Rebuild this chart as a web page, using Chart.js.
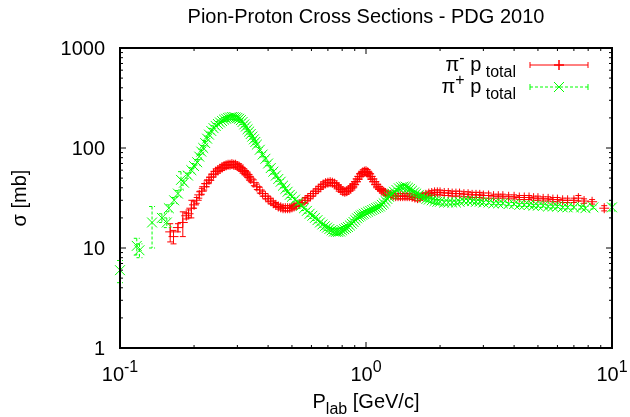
<!DOCTYPE html>
<html>
<head>
<meta charset="utf-8">
<script src="https://cdn.jsdelivr.net/npm/chart.js@4.4.0/dist/chart.umd.min.js"></script>
<style>
  body { margin: 0; background: #fff; }
  canvas { display: block; }
</style>
</head>
<body>
<canvas id="pion-chart" width="630" height="417"></canvas>
<script>
//pi- p total: momentum [GeV/c], cross section [mb], error [mb]
const pimP = [
  0.160,0.165,0.172,0.180,0.186,0.190,0.195,0.200,0.205,0.210,
  0.215,0.220,0.225,0.230,0.235,0.240,0.245,0.250,0.255,0.260,
  0.265,0.270,0.275,0.280,0.285,0.290,0.295,0.300,0.305,0.310,
  0.315,0.320,0.325,0.330,0.335,0.340,0.350,0.360,0.370,0.380,
  0.390,0.400,0.410,0.420,0.430,0.440,0.450,0.460,0.470,0.480,
  0.490,0.500,0.510,0.520,0.535,0.550,0.565,0.580,0.595,0.610,
  0.625,0.640,0.655,0.670,0.685,0.700,0.715,0.730,0.745,0.760,
  0.775,0.790,0.805,0.820,0.835,0.850,0.865,0.880,0.895,0.910,
  0.925,0.940,0.955,0.970,0.985,1.000,1.015,1.030,1.045,1.060,
  1.080,1.100,1.120,1.140,1.160,1.180,1.200,1.230,1.260,1.290,
  1.320,1.350,1.380,1.410,1.440,1.470,1.500,1.540,1.580,1.620,
  1.660,1.700,1.750,1.800,1.850,1.900,1.950,2.000,2.080,2.160,
  2.240,2.320,2.400,2.500,2.600,2.700,2.800,2.900,3.000,3.150,
  3.300,3.450,3.600,3.800,4.000,4.200,4.400,4.600,4.800,5.000,
  5.250,5.500,5.750,6.000,6.300,6.600,7.000,7.300,7.700,8.300,
  9.300
];
const pimSigma = [
  14.5,13,16,18,21,22,25,27,30,34,
  37,41,44,48,51,55,58,60,62,64,
  66,67,68,68,69,68,68,66,65,63,
  60,58,56,54,51,49,45,41,38,35,
  33,31,29.5,28,27,26,25.5,25,25,25,
  25,25.5,26,26.5,27.5,28.5,30,31.5,33,35,
  37,39,41,43,44.5,45,45.5,45,44,42,
  40,38.5,37,36.5,37,38,39.5,41,43,46,
  49,52,55,57,58,58.5,57,55,52,49,
  46,43,41,39,37.5,36.5,35.5,34.5,34,33.5,
  33,33,33,33,33,33,33,32.5,32,31.5,
  32,33,34,35,35.5,36,36,36,35.5,35.5,
  35,35,35,34.5,34.5,34,34,34,33.5,33.5,
  33,33,33,32.5,32.5,32,32,32,31.5,31.5,
  31,31,30.5,30.5,30,30,30,31.5,29.5,29,
  25
];
const pimErr = [
  3,2,1.5,5,1.5,2,5,2,2,2.5,
  2.5,3,3,3,3.5,3.5,4,4,4,4.5,
  4.5,4.5,4.5,4.5,4.5,4.5,4.5,4.5,4.5,4.5,
  4,4,3.5,3.5,3.5,3,3,2.5,2.5,2,
  2,2,2,1.5,1.5,1.5,1.5,1.5,1.5,1.5,
  1.5,1.5,1.5,1.5,1.5,1.5,2,2,2,2,
  2,2.5,2.5,3,3,3,3,3,3,3,
  3,2.5,2.5,2.5,2.5,2.5,2.5,3,3,3,
  3,3.5,3.5,3.5,4,4,4,3.5,3.5,3,
  3,3,2.5,2,2,2,2,2,2,2,
  2,2,2,2,2,2,2,2,2,2,
  2,2,2,2,2,2,2,2,2,2,
  2,2,2,2,2,2,2,2,2,2,
  1.5,1.5,1.5,1.5,1.5,1.5,1.5,1.5,1.5,1.5,
  1.5,1.5,1.5,1.5,1.5,1.5,1.5,2,1.5,1.5,
  1.5
];

//pi+ p total
const pipP = [
  0.100,0.117,0.120,0.135,0.148,0.155,0.158,0.166,0.172,0.177,
  0.182,0.189,0.195,0.200,0.206,0.210,0.214,0.218,0.222,0.226,
  0.230,0.235,0.240,0.245,0.250,0.255,0.260,0.265,0.270,0.275,
  0.280,0.285,0.290,0.295,0.300,0.305,0.310,0.315,0.320,0.325,
  0.330,0.335,0.340,0.345,0.350,0.355,0.360,0.370,0.380,0.390,
  0.400,0.410,0.420,0.430,0.440,0.450,0.460,0.470,0.480,0.490,
  0.500,0.515,0.530,0.545,0.560,0.575,0.590,0.605,0.620,0.635,
  0.650,0.665,0.680,0.695,0.710,0.725,0.740,0.755,0.770,0.785,
  0.800,0.815,0.830,0.845,0.860,0.875,0.890,0.905,0.920,0.935,
  0.950,0.965,0.980,1.000,1.020,1.040,1.060,1.080,1.100,1.120,
  1.140,1.160,1.180,1.200,1.220,1.240,1.260,1.280,1.300,1.330,
  1.360,1.390,1.420,1.450,1.480,1.510,1.540,1.570,1.600,1.640,
  1.680,1.720,1.760,1.800,1.850,1.900,1.950,2.000,2.080,2.160,
  2.240,2.320,2.400,2.500,2.600,2.700,2.800,2.900,3.000,3.150,
  3.300,3.450,3.600,3.800,4.000,4.200,4.400,4.600,4.800,5.000,
  5.250,5.500,5.750,6.000,6.300,6.600,7.000,7.500,7.800,8.400,
  10.000
];
const pipSigma = [
  6.0,10.5,9.5,18,20,18,25,30,35,48,
  45,53,60,66,72,82,92,100,112,124,
  136,148,158,166,174,180,186,192,196,200,
  202,204,204,202,200,196,190,182,172,164,
  154,146,138,130,122,115,108,96,86,78,
  70,63,58,53,49,46,42,39,36.5,34,
  32.5,30.5,28.5,26.5,25,23.5,22,21,20,19,
  18,17.2,16.5,16,15.5,15,14.6,14.5,14.5,14.6,
  15,15.4,15.8,16.2,16.8,17.5,18.2,19,19.8,20.5,
  21,21.5,22,22.5,23,23.5,24,24.5,25,25.5,
  26,27,28,29.5,31,32.5,34,35,36.5,38,
  39.5,40.5,41,41,40,39,37.5,36,35,34,
  33,32,31,30.5,30,29.5,29,29,28.5,28.5,
  28.5,28.5,29,29.5,29.5,29.5,29,29,28.5,28.5,
  28,28,28,27.5,27.5,27,27,27,26.5,26.5,
  26.5,26,26,26,25.5,25.5,25.5,25.5,25,25.5,
  25.5
];
const pipErr = [
  1.5,2,1.5,8,2,2,2,2,2.5,10,
  2.5,3,3.5,4,4.5,5,5.5,6,7,7.5,
  8,9,9,10,10,10,10,10,10,10,
  10,10,10,10,10,10,10,10,9,9,
  8.5,8,7.5,7,6.5,6,5.5,5,4.5,4,
  3.5,3.5,3,3,2.5,2.5,2,2,2,2,
  1.8,1.6,1.5,1.4,1.3,1.2,1.2,1.2,1.1,1.1,
  1,1,1,1,1,1,1,1,1,1,
  1,1,1,1,1,1,1,1,1,1,
  1.2,1.2,1.2,1.2,1.2,1.2,1.2,1.2,1.2,1.2,
  1.2,1.2,1.5,1.5,1.5,1.5,1.5,1.5,1.5,1.5,
  2,2,2,2,2,2,2,2,2,2,
  1.5,1.5,1.5,1.5,1.5,1.5,1.5,1.5,1.5,1.5,
  1.2,1.2,1.2,1.2,1.2,1.2,1.2,1.2,1.2,1.2,
  1,1,1,1,1,1,1,1,1,1,
  1,1,1,1,1,1,1,1,1,1,
  2
];

//Axis ticks
const xMajorTicks = [0.1, 1, 10];
const xTickExponents = ["-1", "0", "1"];
const yMajorTicks = [1, 10, 100, 1000];
const yTickLabels = ["1", "10", "100", "1000"];
const minorSteps = [2, 3, 4, 5, 6, 7, 8, 9];

const FONT = '"Liberation Sans", Arial, Helvetica, sans-serif';

//Draw text made of pieces with different size / vertical offset (super and subscripts)
function drawRich(ctx, parts, x, y, align) {
  let width = 0;
  for (const part of parts) {
    ctx.font = part.size + "px " + FONT;
    part.w = ctx.measureText(part.t).width;
    width += part.w;
  }
  let cx = x;
  if (align == "center") cx = x - width / 2;
  if (align == "right") cx = x - width;
  ctx.textAlign = "left";
  ctx.textBaseline = "alphabetic";
  for (const part of parts) {
    ctx.font = part.size + "px " + FONT;
    ctx.fillText(part.t, cx, y + part.dy);
    cx += part.w;
  }
}

//Vertical error bars with caps, drawn right after each dataset
const errorBars = {
  id: "errorBars",
  afterDatasetDraw(chart, args) {
    const ds = chart.data.datasets[args.index];
    const ctx = chart.ctx;
    const yScale = chart.scales.y;
    ctx.save();
    ctx.strokeStyle = ds.borderColor;
    ctx.lineWidth = 1;
    ctx.setLineDash(ds.errDash);
    args.meta.data.forEach((pt, i) => {
      const v = ds.data[i].y;
      const e = ds.errors[i];
      const top = yScale.getPixelForValue(v + e);
      const bot = yScale.getPixelForValue(Math.max(v - e, 0.01));
      ctx.beginPath();
      ctx.moveTo(pt.x, top);
      ctx.lineTo(pt.x, bot);
      ctx.moveTo(pt.x - 3, top);
      ctx.lineTo(pt.x + 3, top);
      ctx.moveTo(pt.x - 3, bot);
      ctx.lineTo(pt.x + 3, bot);
      ctx.stroke();
    });
    ctx.restore();
  },
};

//Gnuplot-like border, inward ticks, labels, title and key
const frame = {
  id: "frame",
  afterDraw(chart) {
    const ctx = chart.ctx;
    const area = chart.chartArea;
    const xs = chart.scales.x;
    const ys = chart.scales.y;
    ctx.save();
    ctx.strokeStyle = "#000";
    ctx.fillStyle = "#000";
    ctx.lineWidth = 1;
    ctx.setLineDash([]);
    //x ticks, bottom and top
    xMajorTicks.forEach((v, k) => {
      const px = xs.getPixelForValue(v);
      ctx.beginPath();
      ctx.moveTo(px, area.bottom); ctx.lineTo(px, area.bottom - 6);
      ctx.moveTo(px, area.top); ctx.lineTo(px, area.top + 6);
      ctx.stroke();
      if (k < xMajorTicks.length - 1) {
        for (const m of minorSteps) {
          const mx = xs.getPixelForValue(v * m);
          ctx.beginPath();
          ctx.moveTo(mx, area.bottom); ctx.lineTo(mx, area.bottom - 3);
          ctx.moveTo(mx, area.top); ctx.lineTo(mx, area.top + 3);
          ctx.stroke();
        }
      }
      drawRich(ctx, [{ t: "10", size: 20, dy: 0 }, { t: xTickExponents[k], size: 16, dy: -9 }], px, 381, "center");
    });
    //y ticks, left and right
    yMajorTicks.forEach((v, k) => {
      const py = ys.getPixelForValue(v);
      ctx.beginPath();
      ctx.moveTo(area.left, py); ctx.lineTo(area.left + 6, py);
      ctx.moveTo(area.right, py); ctx.lineTo(area.right - 6, py);
      ctx.stroke();
      if (k < yMajorTicks.length - 1) {
        for (const m of minorSteps) {
          const my = ys.getPixelForValue(v * m);
          ctx.beginPath();
          ctx.moveTo(area.left, my); ctx.lineTo(area.left + 3, my);
          ctx.moveTo(area.right, my); ctx.lineTo(area.right - 3, my);
          ctx.stroke();
        }
      }
      drawRich(ctx, [{ t: yTickLabels[k], size: 20, dy: 0 }], 105, py + 7, "right");
    });
    //border
    ctx.lineWidth = 2;
    ctx.strokeRect(area.left, area.top, area.right - area.left, area.bottom - area.top);

    //title and axis labels
    const cx = (area.left + area.right) / 2;
    drawRich(ctx, [{ t: "Pion-Proton Cross Sections - PDG 2010", size: 20, dy: 0 }], cx, 23, "center");
    drawRich(ctx, [{ t: "P", size: 20, dy: 0 }, { t: "lab", size: 16, dy: 6 }, { t: " [GeV/c]", size: 20, dy: 0 }], cx, 408, "center");
    ctx.save();
    ctx.translate(26, (area.top + area.bottom) / 2);
    ctx.rotate(-Math.PI / 2);
    drawRich(ctx, [{ t: "σ [mb]", size: 20, dy: 0 }], 0, 0, "center");
    ctx.restore();

    //key
    const keyRows = [
      { sign: "-", y: 65, color: "#ff0000", dash: [], style: "cross", r: 5 },
      { sign: "+", y: 87, color: "#00ff00", dash: [3, 2], style: "crossRot", r: 7 },
    ];
    for (const row of keyRows) {
      ctx.fillStyle = "#000";
      drawRich(ctx, [
        { t: "π", size: 20, dy: 0 },
        { t: row.sign, size: 16, dy: -8 },
        { t: " p", size: 20, dy: 0 },
        { t: " total", size: 16, dy: 6 },
      ], 516, row.y + 6, "right");
      ctx.strokeStyle = row.color;
      ctx.lineWidth = 1;
      ctx.setLineDash(row.dash);
      ctx.beginPath();
      ctx.moveTo(530, row.y); ctx.lineTo(588, row.y);
      ctx.stroke();
      ctx.setLineDash([]);
      ctx.beginPath();
      ctx.moveTo(530, row.y - 3); ctx.lineTo(530, row.y + 3);
      ctx.moveTo(588, row.y - 3); ctx.lineTo(588, row.y + 3);
      ctx.stroke();
      Chart.helpers.drawPoint(ctx, { pointStyle: row.style, radius: row.r, borderWidth: 1, rotation: 0 }, 559, row.y);
      ctx.stroke();
    }
    ctx.restore();
  },
};

const toPoints = (ps, sig) => ps.map((p, i) => ({ x: p, y: sig[i] }));

const ctx = document.getElementById("pion-chart").getContext("2d");
new Chart(ctx, {
  type: "scatter",
  data: {
    datasets: [
      {
        label: "π- p total",
        data: toPoints(pimP, pimSigma),
        errors: pimErr,
        errDash: [],
        pointStyle: "cross",
        pointRadius: 5,
        borderColor: "#ff0000",
        backgroundColor: "#ff0000",
        borderWidth: 1,
        clip: false,
        order: 2,
      },
      {
        label: "π+ p total",
        data: toPoints(pipP, pipSigma),
        errors: pipErr,
        errDash: [3, 2],
        pointStyle: "crossRot",
        pointRadius: 7,
        borderColor: "#00ff00",
        backgroundColor: "#00ff00",
        borderWidth: 1,
        clip: false,
        order: 1,
      },
    ],
  },
  options: {
    responsive: false,
    animation: false,
    layout: { padding: { left: 120, right: 18, top: 48, bottom: 69 } },
    scales: {
      x: { type: "logarithmic", min: 0.1, max: 10, display: false },
      y: { type: "logarithmic", min: 1, max: 1000, display: false },
    },
    plugins: {
      legend: { display: false },
      tooltip: { enabled: false },
    },
  },
  plugins: [errorBars, frame],
});
</script>
</body>
</html>
